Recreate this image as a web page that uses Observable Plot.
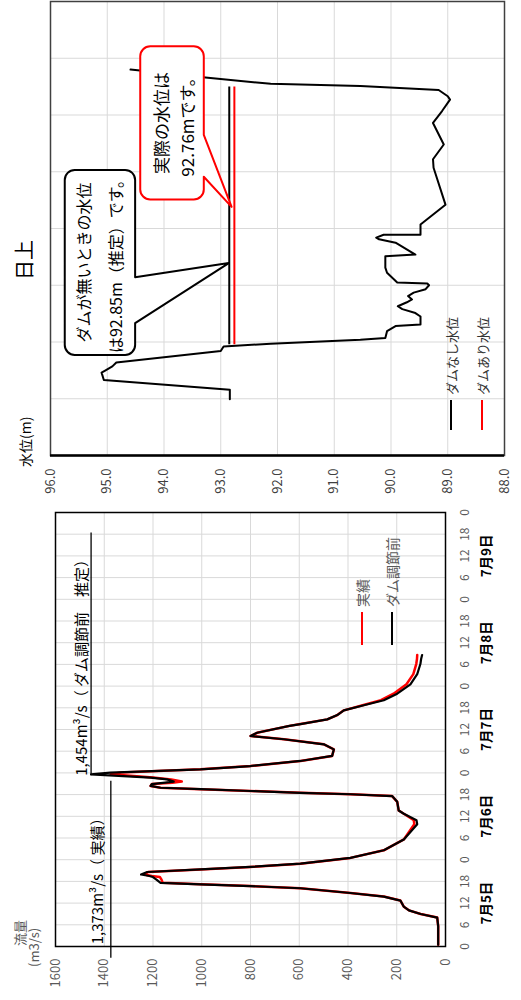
<!DOCTYPE html>
<html><head><meta charset="utf-8">
<script src="https://cdn.jsdelivr.net/npm/d3@7"></script>
<script src="https://cdn.jsdelivr.net/npm/@observablehq/plot@0.6"></script>
<style>
html,body{margin:0;padding:0;overflow:hidden;background:#fff;width:521px;height:1000px}
#wrap{position:absolute;left:0;top:0;width:1000px;height:521px;transform-origin:0 0;transform:translate(0px,1000px) rotate(-90deg);background:#fff;font-family:"Noto Sans CJK JP","Noto Sans",sans-serif}
#wrap svg{position:absolute;top:0;overflow:visible}
.abs{position:absolute;white-space:nowrap;line-height:1}
</style></head><body><div id="wrap"></div>
<script>
const FONT = '"Noto Sans CJK JP","Noto Sans",sans-serif';

// ---- Flow chart data (hours from 7/5 0:00) ----
const flowHours = [0.5,5.6,8,9,10,11,12.7,13.8,14.8,16.1,16.7,17.2,17.6,18.5,19.2,19.5,19.9,20.6,21.3,22,22.9,24.5,26.6,29.6,33.8,34.9,36.7,37.6,40,41.6,42.1,42.5,43,43.5,43.9,44.4,44.9,45.3,45.6,46.2,46.7,47.6,48.1,49,49.9,51.3,52.7,54.5,55.9,57.3,58.2,59.1,61,61.5,62.8,64,65.3,66.7,68.1,69.9,72.5,75.3,78.1,79.5,80.6];
const flowBefore = [30,30,34,102,150,171,185,253,390,595,800,1005,1169,1186,1200,1215,1249,1224,1005,800,595,390,253,171,116,119,171,192,198,219,390,595,800,1005,1169,1210,1205,1150,1115,1142,1210,1454,1375,1005,800,595,465,458,499,663,800,773,640,595,485,444,417,335,253,198,144,116,103,100,96];
const flowActual = [30,30,34,102,150,171,185,253,390,595,800,1005,1160,1165,1172,1205,1235,1220,1005,800,595,390,253,171,128,130,171,192,198,219,390,595,800,1005,1169,1210,1205,1120,1082,1125,1200,1373,1330,1005,800,595,465,458,499,663,800,773,640,595,485,444,417,340,265,213,160,132,120,117,116];
const flowTicks = [0,200,400,600,800,1000,1200,1400,1600];
const hourTicks = [0,6,12,18,24,30,36,42,48,54,60,66,72,78,84,90,96,102,108,114,120];
const dayTicks = [12,36,60,84,108];
const dayLabels = ["7月5日","7月6日","7月7日","7月8日","7月9日"];
const peakBefore = 1454, peakActual = 1373;
const labelBefore = "1,454m³/s（ ダム調節前　推定）";
const labelActual = "1,373m³/s（ 実績）";

// ---- Water level chart data ----
const levelTime = [0.99,1.16,1.33,1.46,1.50,1.57,1.64,1.84,1.92,1.97,2.04,2.07,2.19,2.28,2.31,2.45,2.51,2.58,2.63,2.70,2.75,2.81,2.87,2.93,3.00,3.03,3.05,3.22,3.31,3.51,3.54,3.75,3.81,3.84,3.89,3.89,4.07,4.42,5.07,5.22,5.48,5.86,6.07,6.27,6.33,6.44,6.51,6.55,6.66,6.80];
const levelNoDam = [92.84,92.84,95.06,95.10,95.03,94.91,94.84,93.00,92.95,92.12,90.54,90.10,90.07,89.92,89.48,89.48,89.57,89.80,89.88,89.72,89.63,89.70,89.60,89.39,89.33,89.36,89.89,90.07,90.10,90.10,89.57,89.92,90.21,90.26,90.13,89.48,89.48,89.04,89.25,89.26,89.07,89.26,89.10,88.96,89.00,89.16,90.54,92.12,93.27,94.59];
const levelTicks = [88,89,90,91,92,93,94,95,96];
const peakNoDam = 92.85, peakWithDam = 92.76;
const peakSpan = [1.97, 6.51];
const calloutNoDam = ["ダムが無いときの水位", "は92.85m（推定）です。"];
const calloutDam = ["実際の水位は", "92.76mです。"];

const wrap = document.getElementById("wrap");
const grid = {stroke: "#d9d9d9", strokeOpacity: 1, strokeWidth: 1};

const flowData = flowHours.map((t, i) => ({t, before: flowBefore[i], actual: flowActual[i]}));
const dayMap = new Map(dayTicks.map((d, i) => [d, dayLabels[i]]));

const flowPlot = Plot.plot({
  width: 500, height: 521,
  marginLeft: 53, marginRight: 13, marginTop: 55, marginBottom: 76,
  style: {fontFamily: FONT, background: "transparent", overflow: "visible"},
  x: {domain: [0, 120]},
  y: {domain: [0, 1600]},
  marks: [
    Plot.gridX(hourTicks, grid),
    Plot.gridY(flowTicks, grid),
    Plot.axisY(flowTicks, {tickSize: 0, tickPadding: 12, fontSize: 13, fill: "#595959", tickFormat: d => String(d), label: null}),
    Plot.axisX(hourTicks, {tickSize: 0, tickPadding: 15, fontSize: 12, fill: "#595959", tickFormat: d => String(d % 24), label: null}),
    Plot.axisX(dayTicks, {tickSize: 0, tickPadding: 36, fontSize: 13.5, fontWeight: "bold", fill: "#000", tickFormat: d => dayMap.get(d), label: null}),
    Plot.line(flowData, {x: "t", y: "actual", stroke: "#ff0000", strokeWidth: 2.5}),
    Plot.line(flowData, {x: "t", y: "before", stroke: "#000", strokeWidth: 2.2}),
    Plot.ruleY([peakBefore], {x1: 47.5, x2: 114.6, stroke: "#000", strokeWidth: 1.3}),
    Plot.ruleY([peakActual], {x1: -3, x2: 46, stroke: "#000", strokeWidth: 1.3}),
    Plot.text([labelBefore], {x: 47.2, y: peakBefore, textAnchor: "start", lineAnchor: "bottom", dy: -4, fontSize: 15, fill: "#000"}),
    Plot.text([labelActual], {x: 0.6, y: peakActual, textAnchor: "start", lineAnchor: "bottom", dy: -8, fontSize: 15, fill: "#000"}),
    Plot.frame({stroke: "#000", strokeWidth: 1.5})
  ]
});
flowPlot.style.left = "0px";
wrap.appendChild(flowPlot);

const levelData = levelTime.map((t, i) => ({t, v: levelNoDam[i]}));
const levelPlot = Plot.plot({
  width: 500, height: 521,
  marginLeft: 44, marginRight: 2, marginTop: 50, marginBottom: 17,
  style: {fontFamily: FONT, background: "transparent", overflow: "visible"},
  x: {domain: [0, 8], axis: null},
  y: {domain: [88, 96]},
  marks: [
    Plot.gridX([0,1,2,3,4,5,6,7,8], grid),
    Plot.gridY(levelTicks, grid),
    Plot.axisY(levelTicks, {tickSize: 0, tickPadding: 13, fontSize: 13, fill: "#404040", tickFormat: d => d.toFixed(1), label: null}),
    Plot.line(levelData, {x: "t", y: "v", stroke: "#000", strokeWidth: 2}),
    Plot.ruleY([peakNoDam], {x1: peakSpan[0], x2: peakSpan[1], stroke: "#000", strokeWidth: 2}),
    Plot.ruleY([peakWithDam], {x1: peakSpan[0], x2: peakSpan[1], stroke: "#ff0000", strokeWidth: 2}),
    Plot.frame({stroke: "#404040", strokeWidth: 1.5}),
    Plot.ruleX([0], {stroke: "#000", strokeWidth: 2.5})
  ]
});
levelPlot.style.left = "500px";
wrap.appendChild(levelPlot);

// ---- callouts drawn through the level chart's scales ----
const sx = levelPlot.scale("x"), sy = levelPlot.scale("y");
const X = v => sx.apply(v), Y = v => sy.apply(v);
function calloutPath(l, t, r, b, rad, baseA, baseB, tip) {
  return `M${l+rad},${t}H${r-rad}A${rad},${rad} 0 0 1 ${r},${t+rad}V${b-rad}A${rad},${rad} 0 0 1 ${r-rad},${b}H${baseB}L${tip[0]},${tip[1]}L${baseA},${b}H${l+rad}A${rad},${rad} 0 0 1 ${l},${b-rad}V${t+rad}A${rad},${rad} 0 0 1 ${l+rad},${t}Z`;
}
const svgL = d3.select(levelPlot.tagName.toLowerCase() === "svg" ? levelPlot : levelPlot.querySelector("svg"));
const callouts = [
  {box: [1.78, 95.74, 5.04, 94.50], base: [2.34, 3.15], tip: [3.40, peakNoDam], stroke: "#000", lines: calloutNoDam, cx: 3.41, ly: [95.41, 94.86], fs: 16},
  {box: [4.52, 94.41, 7.22, 93.29], base: [4.92, 5.66], tip: [4.39, 92.80], stroke: "#ff0000", lines: calloutDam, cx: 5.87, ly: [94.05, 93.59], fs: 17}
];
for (const c of callouts) {
  const l = X(c.box[0]), t = Y(c.box[1]), r = X(c.box[2]), b = Y(c.box[3]);
  svgL.append("path")
    .attr("d", calloutPath(l, t, r, b, 10, X(c.base[0]), X(c.base[1]), [X(c.tip[0]), Y(c.tip[1])]))
    .attr("fill", "#fff").attr("stroke", c.stroke).attr("stroke-width", 2).attr("stroke-linejoin", "round");
  c.lines.forEach((s, i) => {
    svgL.append("text").attr("x", X(c.cx)).attr("y", Y(c.ly[i]))
      .attr("text-anchor", "middle").attr("dominant-baseline", "central")
      .attr("font-size", c.fs).attr("font-family", FONT).attr("fill", "#000").text(s);
  });
}

// ---- html labels & legends ----
function label(text, left, top, size, color, extra) {
  const d = document.createElement("div");
  d.className = "abs"; d.textContent = text;
  d.style.left = left + "px"; d.style.top = top + "px";
  d.style.fontSize = size + "px"; d.style.color = color;
  d.style.transform = extra || "translateY(-50%)";
  wrap.appendChild(d);
  return d;
}
function swatch(left, top, w, color) {
  const d = document.createElement("div");
  d.className = "abs";
  Object.assign(d.style, {left: left + "px", top: (top - 1.25) + "px", width: w + "px", height: "2.5px", background: color});
  wrap.appendChild(d);
}
label("流量", 54, 19, 13, "#595959");
label("(m3/s)", 33, 33, 13, "#595959");
swatch(355, 362, 33, "#ff0000"); label("実績", 393, 362, 14, "#595959");
swatch(355, 392, 33, "#000"); label("ダム調節前", 393, 392, 14, "#595959");

label("日上", 740, 24, 20, "#000", "translate(-50%,-50%)");
label("水位(m)", 533, 25, 14, "#000");
swatch(570, 451, 30, "#000"); label("ダムなし水位", 605, 451, 13, "#333");
swatch(570, 482, 30, "#ff0000"); label("ダムあり水位", 605, 482, 13, "#333");
</script></body></html>
